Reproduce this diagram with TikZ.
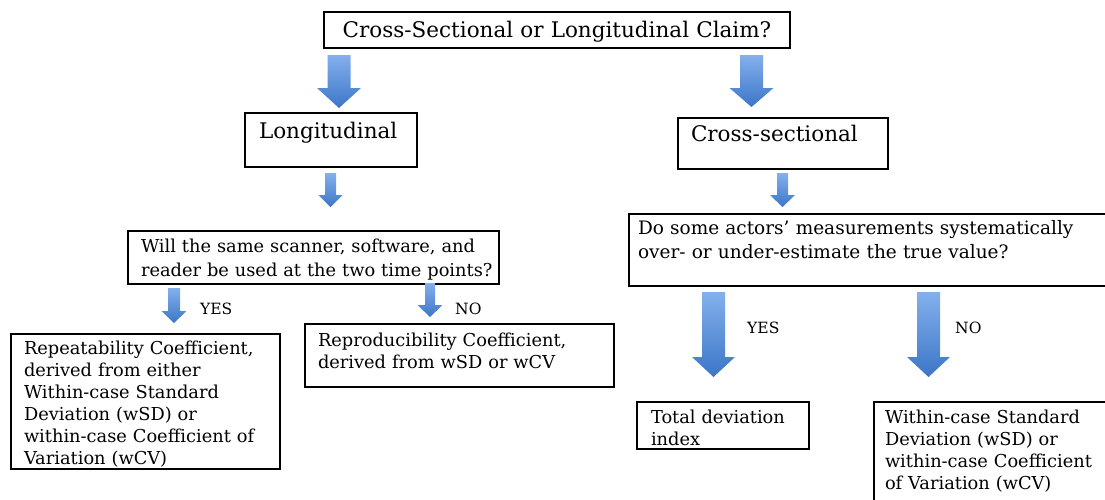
\documentclass[tikz,border=0pt]{standalone}
\usepackage{fontspec}
\setmainfont{DejaVu Serif}
\usetikzlibrary{calc}
\definecolor{arrowtop}{RGB}{132,176,236}
\definecolor{arrowbot}{RGB}{60,118,200}
% block arrow from #1 down to #2: shaft half width, head half width, head length
\newcommand{\fatarrow}[5]{%
  \path[fat] let \p1 = (#1), \p2 = (#2) in
    (\x1-#3pt, \y1) -- (\x1+#3pt, \y1) -- (\x1+#3pt, \y2+#5pt)
    -- (\x1+#4pt, \y2+#5pt) -- (\x1, \y2) -- (\x1-#4pt, \y2+#5pt)
    -- (\x1-#3pt, \y2+#5pt) -- cycle;}
\begin{document}
\begin{tikzpicture}[x=1pt, y=-1pt,
      box/.style = {
        draw=black, line width=2pt, anchor=north west, inner ysep=0pt,
        align=left, font=\fontsize{17.8}{22}\selectfont },
      box-head/.style = { box, font=\fontsize{21.5}{26}\selectfont },
      answer/.style = { anchor=base west, inner sep=0pt,
        font=\fontsize{15.5}{18}\selectfont },
      fat/.style = { top color=arrowtop, bottom color=arrowbot }]
    \useasboundingbox (0,0) rectangle (1105,499);
    \node [box-head, align=center, inner xsep=0pt, text width=466pt,
      text height=25pt, text depth=11pt] (claim) at (323,11)
      {Cross-Sectional or Longitudinal Claim?};
    \node [box-head, inner xsep=14pt, text width=144pt,
      text height=25pt, text depth=29pt] (long) at (244,112) {Longitudinal};
    \node [box-head, inner xsep=13pt, text width=184pt,
      text height=23pt, text depth=28pt] (cross) at (677,117) {Cross-sectional};
    \node [box, font=\fontsize{17.8}{24}\selectfont, inner xsep=6pt,
      text width=359pt, text height=21pt, text depth=32pt] (same) at (127,230)
      {\hspace*{7pt}Will the same scanner, software, and\\
       \hspace*{7pt}reader be used at the two time points?};
    \node [box, font=\fontsize{18.5}{24.5}\selectfont, inner xsep=9pt,
      text width=479pt, text height=20pt, text depth=52pt] (bias) at (628,213)
      {Do some actors’ measurements systematically\\ over- or under-estimate the true value?};
    \node [box, inner xsep=13pt, text width=243pt,
      text height=20pt, text depth=115pt] (repeat) at (10,333)
      {Repeatability Coefficient,\\ derived from either\\ Within-case Standard\\
       Deviation (wSD) or\\ within-case Coefficient of\\ Variation (wCV)};
    \node [box, inner xsep=13pt, text width=283pt,
      text height=22pt, text depth=41pt] (reprod) at (304,323)
      {Reproducibility Coefficient,\\ derived from wSD or wCV};
    \node [box, inner xsep=14pt, text width=144pt,
      text height=21pt, text depth=26pt] (tdi) at (636,401)
      {Total deviation\\ index};
    \node [box, inner xsep=11pt, text width=238pt,
      text height=21pt, text depth=120pt] (wsd) at (873,401)
      {Within-case Standard\\ Deviation (wSD) or\\ within-case Coefficient\\ of Variation (wCV)};
    \node [answer] (same-yes) at (200,314) {YES};
    \node [answer] (same-no) at (455,314) {NO};
    \node [answer] (bias-yes) at (747,333) {YES};
    \node [answer] (bias-no) at (955,333) {NO};
    % arrow ends
    \coordinate (claim-long-top) at (339,55);
    \coordinate (claim-long-tip) at (339,108);
    \coordinate (claim-cross-top) at (751.5,55);
    \coordinate (claim-cross-tip) at (751.5,107);
    \coordinate (long-same-top) at (330.5,173);
    \coordinate (long-same-tip) at (330.5,207);
    \coordinate (cross-bias-top) at (782.5,173);
    \coordinate (cross-bias-tip) at (782.5,207);
    \coordinate (same-yes-top) at (174,288);
    \coordinate (same-yes-tip) at (174,323);
    \coordinate (same-no-top) at (430,283);
    \coordinate (same-no-tip) at (430,317);
    \coordinate (bias-yes-top) at (713.5,292);
    \coordinate (bias-yes-tip) at (713.5,377);
    \coordinate (bias-no-top) at (928.5,292);
    \coordinate (bias-no-tip) at (928.5,377);
    % connect the boxes
    \fatarrow{claim-long-top}{claim-long-tip}{11.5}{22}{20}
    \fatarrow{claim-cross-top}{claim-cross-tip}{11.5}{22}{19}
    \fatarrow{long-same-top}{long-same-tip}{5.5}{12}{12}
    \fatarrow{cross-bias-top}{cross-bias-tip}{5.5}{12.5}{12}
    \fatarrow{same-yes-top}{same-yes-tip}{6}{12.5}{12}
    \fatarrow{same-no-top}{same-no-tip}{5}{12.5}{12}
    \fatarrow{bias-yes-top}{bias-yes-tip}{11.5}{21.5}{20}
    \fatarrow{bias-no-top}{bias-no-tip}{11.5}{21.5}{20}
  \end{tikzpicture}
\end{document}
